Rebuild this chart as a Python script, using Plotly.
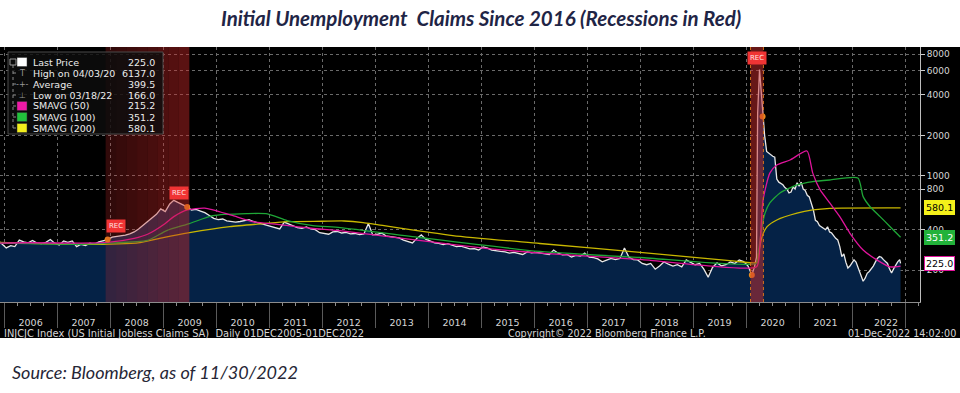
import math
import pandas as pd
import plotly.graph_objects as go

# ---------------- data (thousands) ----------------
first_date = "2005-12-02"
first_value = 324

monthly_years = list(range(2006, 2020))
monthly_values = [
    293, 305, 300, 335, 325, 320, 333, 318, 315, 322, 338, 318,   # 2006
    308, 330, 322, 330, 300, 312, 305, 318, 312, 325, 332, 338,   # 2007
    352, 355, 360, 365, 372, 385, 405, 430, 460, 485, 520, 570,   # 2008
    545, 620, 660, 635, 615, 590, 560, 565, 550, 535, 510, 485,   # 2009
    475, 480, 465, 460, 455, 460, 470, 475, 460, 450, 440, 430,   # 2010
    425, 415, 405, 455, 440, 425, 415, 410, 420, 405, 400, 380,   # 2011
    375, 370, 385, 388, 378, 382, 372, 375, 368, 372, 445, 366,   # 2012
    370, 378, 360, 355, 350, 348, 335, 325, 319, 345, 366, 340,   # 2013
    330, 320, 317, 310, 315, 308, 300, 302, 293, 288, 290, 283,   # 2014
    298, 292, 282, 278, 276, 274, 268, 272, 266, 262, 274, 270,   # 2015
    272, 269, 265, 262, 283, 268, 260, 262, 251, 258, 255, 268,   # 2016
    250, 248, 243, 231, 238, 245, 240, 245, 293, 251, 240, 239,   # 2017
    225, 220, 225, 204, 215, 231, 222, 215, 220, 212, 239, 228,   # 2018
    220, 225, 205, 178, 210, 227, 216, 220, 231, 225, 239, 232,   # 2019
]

recent_dates = [
    "2020-01-15", "2020-02-10", "2020-02-28", "2020-03-13", "2020-03-21", "2020-04-03",
    "2020-04-10", "2020-04-24", "2020-05-08", "2020-05-22", "2020-06-05", "2020-06-19",
    "2020-07-03", "2020-07-17", "2020-07-31", "2020-08-14", "2020-08-28", "2020-09-11",
    "2020-09-25", "2020-10-09", "2020-10-23", "2020-11-06", "2020-11-20", "2020-12-04",
    "2020-12-18", "2021-01-01", "2021-01-15", "2021-01-29", "2021-02-12", "2021-02-26",
    "2021-03-12", "2021-03-26", "2021-04-09", "2021-04-23", "2021-05-07", "2021-05-21",
    "2021-06-04", "2021-06-18", "2021-07-02", "2021-07-16", "2021-07-30", "2021-08-13",
    "2021-08-27", "2021-09-10", "2021-09-24", "2021-10-08", "2021-10-22", "2021-11-05",
    "2021-11-19", "2021-12-03", "2021-12-17", "2021-12-31", "2022-01-14", "2022-01-28",
    "2022-02-11", "2022-02-25", "2022-03-04", "2022-03-18", "2022-04-01", "2022-04-15",
    "2022-04-29", "2022-05-13", "2022-05-27", "2022-06-10", "2022-06-24", "2022-07-08",
    "2022-07-22", "2022-08-05", "2022-08-19", "2022-09-02", "2022-09-16", "2022-09-30",
    "2022-10-14", "2022-10-28", "2022-11-11", "2022-11-25", "2022-12-01",
]
recent_values = [
    215, 185, 212, 250, 2920, 6137,
    4800, 2760, 2000, 1520, 1480, 1420,
    1400, 1380, 950, 900, 880, 860,
    820, 800, 750, 760, 830, 800,
    890, 840, 900, 800, 780, 720,
    700, 620, 560, 470, 459, 430,
    421, 410, 400, 420, 385, 378,
    360, 345, 336, 300, 253, 265,
    230, 208, 215, 225, 239, 230,
    210, 195, 185, 166, 175, 190,
    196, 205, 215, 230, 245, 253,
    250, 240, 231, 225, 205, 191,
    205, 220, 231, 240, 225,
]

sma50_dates = ["2005-12-02", "2006-06-15", "2007-06-15", "2007-12-15", "2008-06-15", "2008-09-15",
               "2009-01-15", "2009-03-15", "2009-06-15", "2009-10-15", "2010-04-15", "2010-09-15",
               "2011-03-15", "2011-10-15", "2012-05-15", "2013-10-15", "2015-02-15", "2016-02-15",
               "2018-01-15", "2019-04-15", "2020-03-14", "2020-04-05", "2020-04-27", "2020-06-13",
               "2020-07-31", "2020-10-30", "2021-02-24", "2021-04-05", "2021-05-26", "2021-07-31",
               "2021-10-08", "2021-12-16", "2022-03-18", "2022-06-20", "2022-09-20", "2022-12-01"]
sma50 = [318, 320, 318, 322, 345, 370,
         445, 500, 560, 578, 512, 458,
         436, 410, 392, 335, 290, 268,
         240, 216, 213, 300, 660, 1050,
         1205, 1314, 1531, 1050, 788, 631,
         500, 378, 283, 239, 212, 215.2]

sma100_dates = ["2005-12-02", "2007-06-15", "2007-12-15", "2008-09-15", "2009-01-25", "2009-06-30",
                "2009-12-10", "2010-07-30", "2010-12-20", "2011-05-05", "2011-10-30", "2012-05-05",
                "2013-11-05", "2016-02-10", "2018-01-01", "2020-03-14", "2020-03-25", "2020-04-20",
                "2020-05-11", "2020-06-13", "2020-08-22", "2020-12-17", "2021-04-05", "2021-07-31",
                "2022-02-10", "2022-03-18", "2022-05-05", "2022-07-13", "2022-09-20", "2022-12-01"]
sma100 = [318, 312, 318, 333, 394, 444,
          508, 526, 524, 467, 429, 415,
          350, 276, 249, 226, 268, 421,
          531, 631, 748, 858, 908, 934,
          966, 703, 592, 500, 421, 351.2]

sma200_dates = ["2005-12-02", "2007-06-15", "2008-07-25", "2009-01-01", "2009-07-01", "2010-04-05",
                "2010-11-25", "2011-05-05", "2012-01-01", "2012-06-01", "2012-10-10", "2013-01-15",
                "2014-06-20", "2016-02-10", "2018-01-01", "2019-09-10", "2020-03-14", "2020-03-25",
                "2020-04-20", "2020-05-25", "2020-07-31", "2020-12-17", "2021-04-05", "2021-07-31",
                "2022-12-01"]
sma200 = [322, 311, 321, 350, 381, 422,
          444, 459, 462, 464, 452, 436,
          362, 316, 272, 236, 229, 260,
          355, 421, 472, 530, 560, 576,
          580.1]

recessions = [("2007-12-01", "2009-06-30"), ("2020-02-01", "2020-04-30")]
rec_dot_dates = ["2007-12-15", "2009-06-15", "2020-02-10", "2020-04-24"]
rec_tags = [("2007-12-01", 427, "left"), ("2009-06-30", 748, "right"), ("2020-03-16", 7490, "center")]

year_labels = [str(y) for y in range(2006, 2023)]
year_starts = [f"{y}-01-01" for y in range(2006, 2024)]
year_label_pos = [f"{y}-07-02" for y in range(2006, 2022)] + ["2022-08-23"]

y_ticks = [200, 400, 800, 1000, 2000, 4000, 6000, 8000]

legend_labels = ["Last Price", "High on 04/03/20", "Average", "Low on 03/18/22",
                 "SMAVG (50)", "SMAVG (100)", "SMAVG (200)"]
legend_values = ["225.0", "6137.0", "399.5", "166.0", "215.2", "351.2", "580.1"]

# ---------------- assemble series ----------------
claims_dates = [first_date] + [f"{y}-{m:02d}-15" for y in monthly_years for m in range(1, 13)] + recent_dates
claims_values = [first_value] + monthly_values + recent_values

C_PRICE = "#e8e8e8"
C_FILL = "#052246"
C_MAG = "#e0149c"
C_GRN = "#1fa637"
C_YEL = "#c9b800"
GRID = "#6a6a6a"
TXT = "#d6d6d6"
MONO = "DejaVu Sans"

X_RANGE = ["2005-12-03", "2023-04-14"]
Y_RANGE = [math.log10(116.5), math.log10(9030)]

PLOT_W, PLOT_H, TOP = 920, 255, 47


def px(xp):
    return xp / PLOT_W


def py(yp):
    return (TOP + PLOT_H - yp) / PLOT_H


fig = go.Figure()

fig.add_trace(go.Scatter(x=claims_dates, y=claims_values, mode="lines", fill="tozeroy",
                         fillcolor=C_FILL, line=dict(width=0, color=C_FILL), hoverinfo="skip"))
fig.add_trace(go.Scatter(x=claims_dates, y=claims_values, mode="lines",
                         line=dict(width=1.3, color=C_PRICE), hoverinfo="skip"))
fig.add_trace(go.Scatter(x=sma200_dates, y=sma200, mode="lines",
                         line=dict(width=1.3, color=C_YEL, shape="spline", smoothing=0.6)))
fig.add_trace(go.Scatter(x=sma100_dates, y=sma100, mode="lines",
                         line=dict(width=1.3, color=C_GRN, shape="spline", smoothing=0.6)))
fig.add_trace(go.Scatter(x=sma50_dates, y=sma50, mode="lines",
                         line=dict(width=1.3, color=C_MAG, shape="spline", smoothing=0.6)))

lookup = dict(zip(claims_dates, claims_values))
fig.add_trace(go.Scatter(x=rec_dot_dates, y=[lookup[d] for d in rec_dot_dates], mode="markers",
                         marker=dict(size=6, color="#e8891c"), hoverinfo="skip"))

fig.add_trace(go.Scatter(x=claims_dates, y=claims_values, xaxis="x2", mode="lines",
                         line=dict(width=0), opacity=0, hoverinfo="skip"))

shapes = []
shapes.append(dict(type="rect", xref="paper", yref="paper", x0=0, x1=960 / PLOT_W,
                   y0=py(338), y1=1, fillcolor="black", line=dict(width=0), layer="below"))

r0, r1 = pd.Timestamp(recessions[0][0]), pd.Timestamp(recessions[0][1])
n = 8
for i in range(n):
    a0 = r0 + (r1 - r0) * i / n
    a1 = r0 + (r1 - r0) * (i + 1) / n
    alpha = 0.24 + 0.2 * i / (n - 1)
    shapes.append(dict(type="rect", xref="x", yref="paper", x0=a0, x1=a1, y0=0, y1=1,
                       fillcolor=f"rgba(205,40,40,{alpha:.3f})", line=dict(width=0), layer="above"))
shapes.append(dict(type="rect", xref="x", yref="paper", x0=recessions[1][0], x1=recessions[1][1],
                   y0=0, y1=1, fillcolor="rgba(205,45,45,0.5)", line=dict(width=0), layer="above"))
for xe in recessions[1]:
    shapes.append(dict(type="line", xref="x", yref="paper", x0=xe, x1=xe, y0=0, y1=1,
                       line=dict(color="#d0701c", width=1, dash="dot"), layer="above"))

shapes.append(dict(type="rect", xref="paper", yref="paper", x0=px(8), x1=px(163), y0=py(134), y1=py(52),
                   fillcolor="rgba(14,14,14,0.82)", line=dict(color="#4a4a4a", width=1), layer="above"))
row_y = [62, 73, 84, 95, 106, 117, 128]
shapes.append(dict(type="line", xref="paper", yref="paper", x0=px(13), x1=px(13), y0=py(128), y1=py(65),
                   line=dict(color="#8a8a8a", width=1, dash="dot"), layer="above"))
shapes.append(dict(type="rect", xref="paper", yref="paper", x0=px(10), x1=px(16), y0=py(65), y1=py(59),
                   fillcolor="rgba(0,0,0,0)", line=dict(color="#9a9a9a", width=1), layer="above"))
for ry in row_y[1:]:
    shapes.append(dict(type="line", xref="paper", yref="paper", x0=px(13), x1=px(16), y0=py(ry), y1=py(ry),
                       line=dict(color="#8a8a8a", width=1), layer="above"))
square_colors = {0: "#ffffff", 4: "#ee1aa6", 5: "#22c23c", 6: "#f2ee1c"}
for i, col in square_colors.items():
    shapes.append(dict(type="rect", xref="paper", yref="paper", x0=px(17), x1=px(27),
                       y0=py(row_y[i] + 4.5), y1=py(row_y[i] - 4.5), fillcolor=col,
                       line=dict(color="#333", width=0.5), layer="above"))

annotations = []
sym = {1: "T", 2: "-+-", 3: "⊥"}
for i, (lab, val) in enumerate(zip(legend_labels, legend_values)):
    annotations.append(dict(xref="paper", yref="paper", x=px(31), y=py(row_y[i]), text=lab, showarrow=False,
                            xanchor="left", yanchor="middle", font=dict(family=MONO, size=9.5, color="#ececec")))
    annotations.append(dict(xref="paper", yref="paper", x=px(157), y=py(row_y[i]), text=val, showarrow=False,
                            xanchor="right", yanchor="middle", font=dict(family=MONO, size=9.5, color="#ececec")))
    if i in sym:
        annotations.append(dict(xref="paper", yref="paper", x=px(22), y=py(row_y[i]), text=sym[i], showarrow=False,
                                xanchor="center", yanchor="middle", font=dict(family=MONO, size=8, color="#9a9a9a")))

for xd, yv, anc in rec_tags:
    annotations.append(dict(x=xd, y=math.log10(yv), xref="x", yref="y", text="REC", showarrow=False,
                            xanchor=anc, yanchor="middle", bgcolor="#f03434", borderpad=2,
                            font=dict(family=MONO, size=7, color="#ffe2e2")))

# right-hand value tags (the magenta 215.2 tag hides behind the 225.0 tag; shown as its outline)
tags = [(580.1, "#f4f01a", "black", "#f4f01a"),
        (351.2, "#22b23a", "white", "#22b23a"),
        (225.0, "white", "black", "#e0149c")]
for v, bg, fc, bc in tags:
    annotations.append(dict(xref="paper", yref="y", x=px(924), y=math.log10(v), text=f"{v:.1f}", showarrow=False,
                            xanchor="left", yanchor="middle", bgcolor=bg, bordercolor=bc, borderwidth=1, borderpad=1,
                            font=dict(family=MONO, size=9.5, color=fc)))

annotations += [
    dict(xref="paper", yref="paper", x=px(2), y=py(333),
         text="INJCJC Index (US Initial Jobless Claims SA)  Daily 01DEC2005-01DEC2022",
         showarrow=False, xanchor="left", yanchor="middle", font=dict(family=MONO, size=9.9, color=TXT)),
    dict(xref="paper", yref="paper", x=px(506), y=py(333), text="Copyright© 2022 Bloomberg Finance L.P.",
         showarrow=False, xanchor="left", yanchor="middle", font=dict(family=MONO, size=9.6, color=TXT)),
    dict(xref="paper", yref="paper", x=px(958), y=py(333), text="01-Dec-2022 14:02:00",
         showarrow=False, xanchor="right", yanchor="middle", font=dict(family=MONO, size=9.6, color=TXT)),
    dict(xref="paper", yref="paper", x=px(481), y=py(18),
         text="<b><i>Initial Unemployment  Claims Since 2016 (Recessions in Red)</i></b>",
         showarrow=False, xanchor="center", yanchor="middle", font=dict(family="Lato", size=20.5, color="#1f2546")),
    dict(xref="paper", yref="paper", x=px(10), y=py(372), text="<i>Source: Bloomberg, as of 11/30/2022</i>",
         showarrow=False, xanchor="left", yanchor="middle", font=dict(family="Lato", size=18, color="#262636")),
]

fig.update_layout(
    width=960, height=393, margin=dict(l=0, r=40, t=47, b=91),
    paper_bgcolor="white", plot_bgcolor="black", showlegend=False,
    shapes=shapes, annotations=annotations,
    xaxis=dict(type="date", range=X_RANGE, tickmode="array", tickvals=year_starts, showticklabels=False,
               ticks="outside", ticklen=25, tickcolor="#5a5a5a", tickwidth=1,
               showgrid=True, gridcolor=GRID, griddash="dot", gridwidth=1,
               showline=True, linecolor="#8c8c8c", linewidth=1, zeroline=False,
               minor=dict(tickmode="linear", tick0="2006-01-01", dtick="M3", ticks="outside",
                          ticklen=3, tickcolor="#8c8c8c", showgrid=False)),
    xaxis2=dict(type="date", range=X_RANGE, overlaying="x", anchor="y", side="bottom",
                tickmode="array", tickvals=year_label_pos, ticktext=year_labels,
                ticks="outside", ticklen=12, tickcolor="rgba(0,0,0,0)", showgrid=False, showline=False,
                zeroline=False, tickfont=dict(family=MONO, size=9.5, color=TXT)),
    yaxis=dict(type="log", side="right", range=Y_RANGE, tickmode="array", tickvals=y_ticks,
               ticktext=[str(t) for t in y_ticks], tickfont=dict(family=MONO, size=9, color=TXT),
               ticks="outside", ticklen=4, tickcolor="#cfcfcf", showline=True, linecolor="#bdbdbd",
               linewidth=1, showgrid=True, gridcolor=GRID, griddash="dot", zeroline=False),
)

fig.write_html("out.html", config={"displayModeBar": False},
               post_script="document.body.style.margin='0';document.body.style.padding='0';")
